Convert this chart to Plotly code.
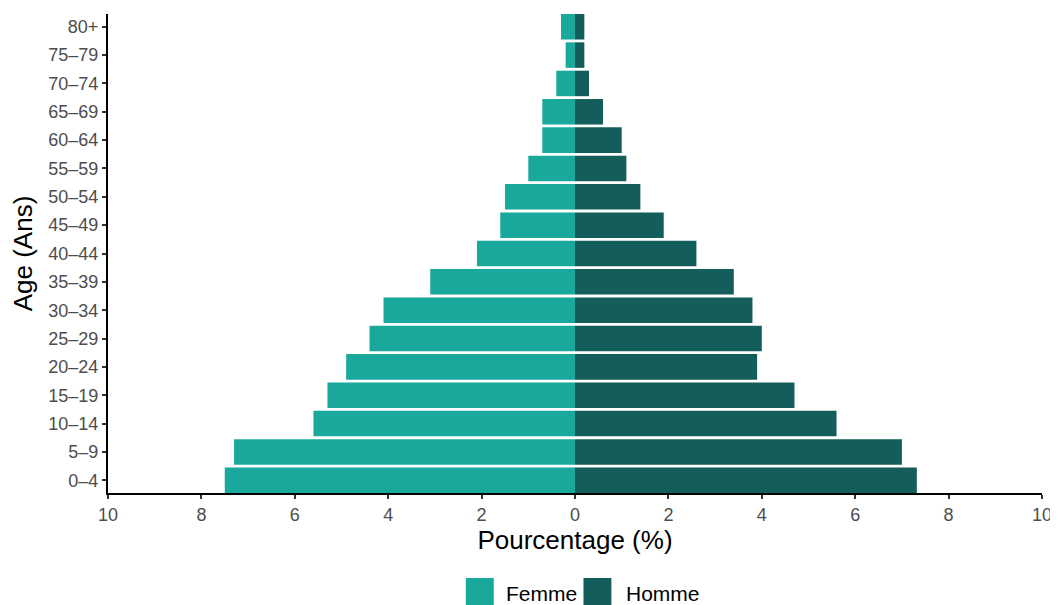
import plotly.graph_objects as go

age_groups = ["0–4", "5–9", "10–14", "15–19", "20–24", "25–29", "30–34", "35–39",
              "40–44", "45–49", "50–54", "55–59", "60–64", "65–69", "70–74", "75–79", "80+"]
femme = [7.5, 7.3, 5.6, 5.3, 4.9, 4.4, 4.1, 3.1, 2.1, 1.6, 1.5, 1.0, 0.7, 0.7, 0.4, 0.2, 0.3]
homme = [7.32, 7.0, 5.6, 4.7, 3.9, 4.0, 3.8, 3.4, 2.6, 1.9, 1.4, 1.1, 1.0, 0.6, 0.3, 0.2, 0.2]
tick_values = [-10, -8, -6, -4, -2, 0, 2, 4, 6, 8, 10]
tick_labels = ["10", "8", "6", "4", "2", "0", "2", "4", "6", "8", "10"]

c_femme = "#19a89b"
c_homme = "#135e5a"
font = "Liberation Sans, Arial, Helvetica, sans-serif"

fig = go.Figure()
fig.add_trace(go.Bar(y=age_groups, x=[-v for v in femme], orientation="h",
                     name="Femme", marker=dict(color=c_femme, line=dict(width=0)),
                     showlegend=False))
fig.add_trace(go.Bar(y=age_groups, x=homme, orientation="h",
                     name="Homme", marker=dict(color=c_homme, line=dict(width=0)),
                     showlegend=False))

# page body has an 8px margin: shrink the figure so the plot area lands at the right spot
fig.update_layout(
    width=1050, height=597,
    margin=dict(l=100, r=13, t=6, b=112),
    paper_bgcolor="white", plot_bgcolor="white",
    barmode="relative", bargap=0.1,
    font=dict(family=font, color="#4d4d4d"),
)
fig.update_xaxes(
    range=[-10, 10], tickvals=tick_values, ticktext=tick_labels,
    showgrid=False, zeroline=False,
    showline=True, linecolor="black", linewidth=2,
    ticks="outside", ticklen=4, tickwidth=1.5, tickcolor="#333333",
    tickfont=dict(size=18, color="#4d4d4d", family=font),
    title=dict(text="Pourcentage (%)", font=dict(size=26, color="black", family=font), standoff=6),
)
fig.update_yaxes(
    type="category", categoryorder="array", categoryarray=age_groups,
    range=[-0.45, 16.45],
    showgrid=False, zeroline=False,
    showline=True, linecolor="black", linewidth=2,
    ticks="outside", ticklen=4, tickwidth=1.5, tickcolor="#333333",
    tickfont=dict(size=18, color="#4d4d4d", family=font),
    title=dict(text="Age (Ans)", font=dict(size=26, color="black", family=font), standoff=12),
)

# Legend drawn manually (larger keys like the reference)
def px_x(px):
    return (px - 108) / 937

def px_y(py):
    return (493 - py) / 479

legend_items = [("Femme", c_femme, 467, 505), ("Homme", c_homme, 585, 626)]
for label, col, sx, tx in legend_items:
    fig.add_shape(type="rect", xref="paper", yref="paper",
                  x0=px_x(sx), x1=px_x(sx + 28), y0=px_y(606), y1=px_y(578),
                  fillcolor=col, line=dict(width=0))
    fig.add_annotation(xref="paper", yref="paper", x=px_x(tx), y=px_y(593),
                       text=label, showarrow=False, xanchor="left", yanchor="middle",
                       font=dict(size=21, color="black", family=font))

fig.write_html("out.html")
